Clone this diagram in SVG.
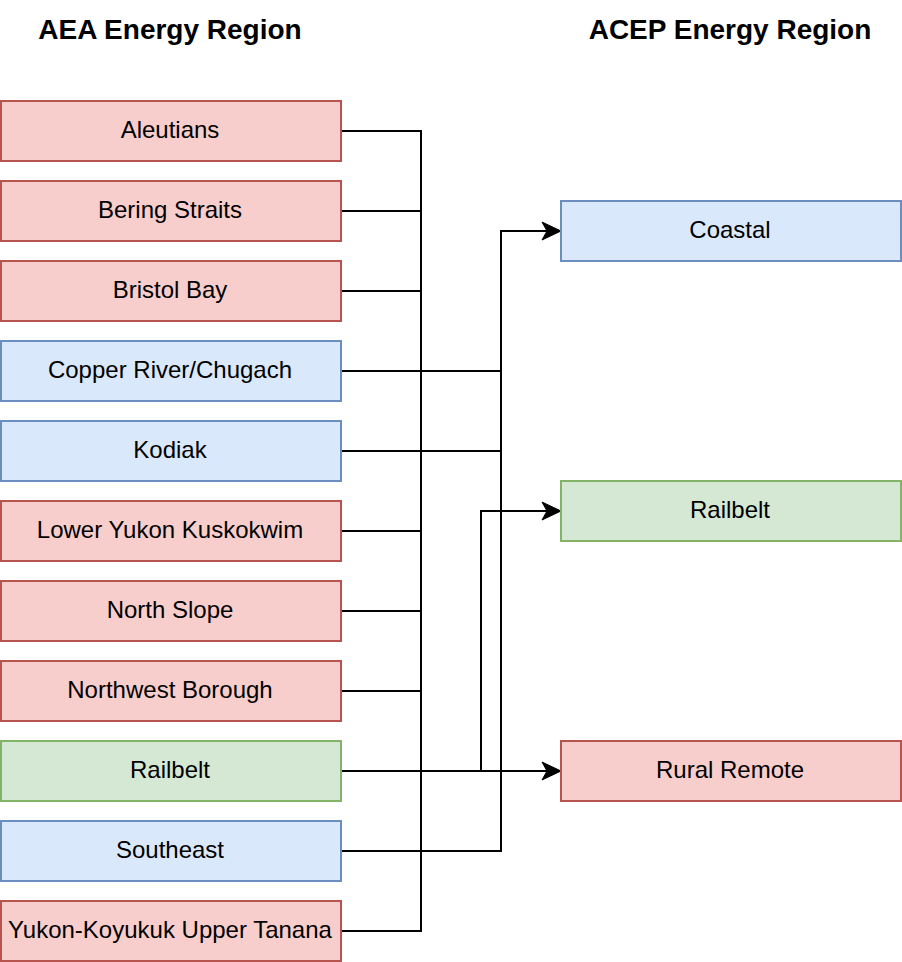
<svg xmlns="http://www.w3.org/2000/svg" width="902" height="962" viewBox="0 0 902 962">
<style>
.red{fill:#f8cecc;stroke:#b85450;stroke-width:2}
.blue{fill:#dae8fc;stroke:#6c8ebf;stroke-width:2}
.green{fill:#d5e8d4;stroke:#82b366;stroke-width:2}
.lbl{font-family:"Liberation Sans",Arial,sans-serif;font-size:24px;text-anchor:middle;fill:#000}
.title{font-family:"Liberation Sans",Arial,sans-serif;font-size:28px;font-weight:bold;text-anchor:middle;fill:#000}
.edge{fill:none;stroke:#000;stroke-width:2}
</style>
<defs>
<marker id="arr" markerUnits="userSpaceOnUse" markerWidth="22" markerHeight="22" viewBox="0 0 22 22" refX="20" refY="11" orient="auto">
<path d="M1,2 L20,11 L1,20 L6,11 Z" fill="#000" stroke="#000" stroke-width="1"/>
</marker>
</defs>
<rect width="902" height="962" fill="#fff"/>
<text class="title" x="170" y="39">AEA Energy Region</text>
<text class="title" x="730" y="39">ACEP Energy Region</text>
<g id="connectors">
<path class="edge" d="M341,131 H421 V771"/>
<path class="edge" d="M341,211 H421"/>
<path class="edge" d="M341,291 H421"/>
<path class="edge" d="M341,531 H421"/>
<path class="edge" d="M341,611 H421"/>
<path class="edge" d="M341,691 H421"/>
<path class="edge" d="M341,931 H421 V771"/>
<path class="edge" d="M341,771 H552"/>
<path class="edge" d="M341,371 H501 V231 H552"/>
<path class="edge" d="M341,451 H501"/>
<path class="edge" d="M341,851 H501 V231"/>
<path class="edge" d="M481,771 V511 H552"/>
<path class="edge" d="M550,771 H561" marker-end="url(#arr)" stroke-opacity="0"/>
<path class="edge" d="M550,231 H561" marker-end="url(#arr)" stroke-opacity="0"/>
<path class="edge" d="M550,511 H561" marker-end="url(#arr)" stroke-opacity="0"/>
</g>
<g id="aleutians"><rect class="red" x="1" y="101" width="340" height="60"/><text class="lbl" x="170" y="138">Aleutians</text></g>
<g id="bering"><rect class="red" x="1" y="181" width="340" height="60"/><text class="lbl" x="170" y="218">Bering Straits</text></g>
<g id="bristol"><rect class="red" x="1" y="261" width="340" height="60"/><text class="lbl" x="170" y="298">Bristol Bay</text></g>
<g id="copper"><rect class="blue" x="1" y="341" width="340" height="60"/><text class="lbl" x="170" y="378">Copper River/Chugach</text></g>
<g id="kodiak"><rect class="blue" x="1" y="421" width="340" height="60"/><text class="lbl" x="170" y="458">Kodiak</text></g>
<g id="lyk"><rect class="red" x="1" y="501" width="340" height="60"/><text class="lbl" x="170" y="538">Lower Yukon Kuskokwim</text></g>
<g id="northslope"><rect class="red" x="1" y="581" width="340" height="60"/><text class="lbl" x="170" y="618">North Slope</text></g>
<g id="northwest"><rect class="red" x="1" y="661" width="340" height="60"/><text class="lbl" x="170" y="698">Northwest Borough</text></g>
<g id="railbelt-aea"><rect class="green" x="1" y="741" width="340" height="60"/><text class="lbl" x="170" y="778">Railbelt</text></g>
<g id="southeast"><rect class="blue" x="1" y="821" width="340" height="60"/><text class="lbl" x="170" y="858">Southeast</text></g>
<g id="yukon"><rect class="red" x="1" y="901" width="340" height="60"/><text class="lbl" x="170" y="938">Yukon-Koyukuk Upper Tanana</text></g>
<g id="coastal"><rect class="blue" x="561" y="201" width="340" height="60"/><text class="lbl" x="730" y="238">Coastal</text></g>
<g id="railbelt-acep"><rect class="green" x="561" y="481" width="340" height="60"/><text class="lbl" x="730" y="518">Railbelt</text></g>
<g id="rural"><rect class="red" x="561" y="741" width="340" height="60"/><text class="lbl" x="730" y="778">Rural Remote</text></g>
</svg>
